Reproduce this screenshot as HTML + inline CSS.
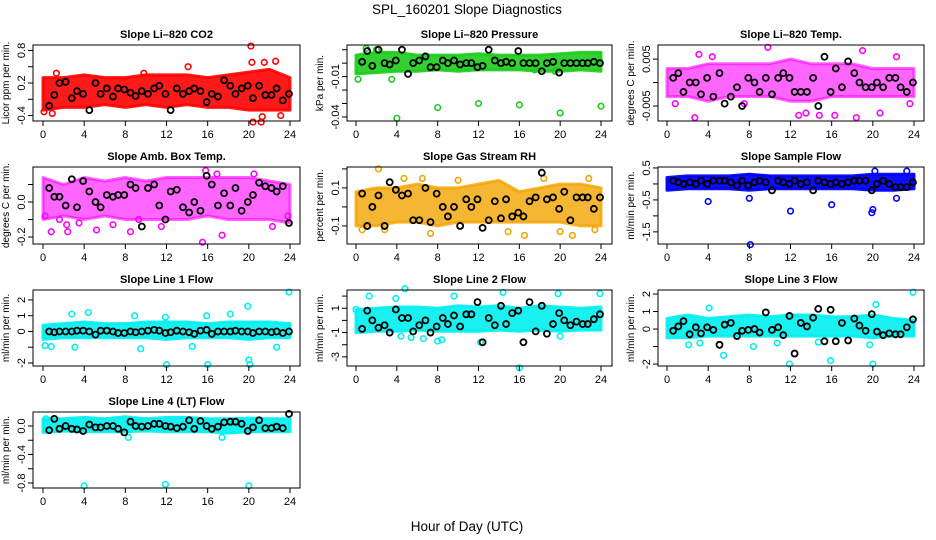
<!DOCTYPE html>
<html><head><meta charset="utf-8"><style>
html,body{margin:0;padding:0;background:#fff;}
svg{display:block;font-family:"Liberation Sans",sans-serif;}
</style></head><body>
<svg id="chart" width="936" height="540" viewBox="0 0 936 540" xmlns="http://www.w3.org/2000/svg">
<text x="467" y="14" font-size="13.5" text-anchor="middle">SPL_160201  Slope Diagnostics</text>
<text x="467" y="531" font-size="13.5" text-anchor="middle">Hour of Day (UTC)</text>
</svg>
<script>
const bandHours=[0,2,4,6,8,10,12,14,16,18,20,22,24];
const blackHours=[0.6,1.1,1.6,2.2,2.8,3.3,3.9,4.5,5.1,5.6,6.2,6.8,7.3,7.9,8.5,9.0,9.6,10.2,10.8,11.3,11.9,12.4,13.0,13.6,14.2,14.7,15.3,15.9,16.4,17.0,17.6,18.2,18.7,19.3,19.9,20.4,21.0,21.6,22.2,22.7,23.3,23.9];
const xTicks=[0,4,8,12,16,20,24];

const co2Lo=[-0.3,-0.25,-0.25,-0.2,-0.25,-0.2,-0.25,-0.2,-0.25,-0.25,-0.3,-0.3,-0.3];
const co2Hi=[0.3,0.3,0.35,0.3,0.3,0.35,0.35,0.35,0.3,0.35,0.4,0.45,0.3];
const co2OutX=[0.1,0.9,1.3,9.8,14.1,20.2,20.4,21.2,21.5,22.6,20.3,21.3,23.1];
const co2OutY=[-0.33,-0.36,0.38,0.38,0.5,0.88,-0.52,-0.52,0.58,0.6,0.58,-0.42,-0.4];
const co2Black=[-0.22,-0.02,0.2,0.22,-0.08,0.05,0.0,-0.3,0.2,0.0,0.1,-0.05,0.1,0.08,0.02,-0.04,0.05,0.0,0.1,0.15,0.0,-0.3,0.1,0.0,0.05,0.1,0.05,-0.15,0.0,-0.05,0.25,0.15,0.0,0.1,0.15,-0.08,0.15,-0.02,-0.02,0.1,-0.12,0.0];

const presLo=[-0.008,-0.007,-0.006,-0.006,-0.005,-0.006,-0.005,-0.005,-0.005,-0.006,-0.006,-0.005,-0.006];
const presHi=[0.006,0.008,0.008,0.006,0.006,0.006,0.007,0.006,0.006,0.006,0.007,0.008,0.008];
const presOutX=[0.2,4.0,8.0,12.0,16.0,20.0,24.0,1.0,2.0,3.5,17.5,19.5];
const presOutY=[-0.012,-0.041,-0.033,-0.03,-0.031,-0.037,-0.032,0.011,0.01,-0.012,-0.005,-0.006];
const presBlack=[0.001,0.009,-0.002,0.01,0.0,-0.001,0.002,0.01,-0.008,0.0,0.002,0.005,-0.003,-0.003,0.002,0.0,0.002,-0.001,0.0,0.0,-0.003,-0.002,0.01,0.002,0.0,0.001,0.0,0.009,0.0,0.0,0.0,-0.006,0.0,0.001,-0.007,0.0,0.0,0.0,0.0,0.0,0.001,0.0];

const tempLo=[-0.003,-0.003,-0.004,-0.003,-0.003,-0.003,-0.004,-0.004,-0.003,-0.003,-0.003,-0.003,-0.003];
const tempHi=[0.003,0.003,0.004,0.004,0.004,0.004,0.005,0.004,0.004,0.004,0.003,0.003,0.003];
const tempOutX=[2.7,3.1,0.8,4.4,9.8,12.8,13.5,14.8,16.3,18.4,19.0,20.7,22.3,23.6,7.5];
const tempOutY=[-0.0075,0.006,-0.0045,0.0055,0.0075,-0.007,-0.0065,-0.007,-0.007,-0.0075,0.0068,-0.0065,0.0055,-0.0045,-0.0045];
const tempBlack=[0.001,0.002,-0.002,0.0,0.0,-0.0025,0.001,-0.003,0.002,-0.0045,-0.003,-0.001,-0.005,0.001,0.0,-0.002,0.001,-0.0025,0.001,0.002,0.001,-0.002,-0.002,-0.002,0.001,-0.005,0.0055,-0.002,0.003,-0.001,0.0045,0.002,0.0,-0.001,-0.001,0.0,-0.001,0.001,0.001,-0.001,-0.002,0.0];

const ambLo=[-0.1,-0.08,-0.1,-0.08,-0.1,-0.1,-0.1,-0.1,-0.08,-0.1,-0.1,-0.1,-0.12];
const ambHi=[0.14,0.1,0.14,0.12,0.14,0.12,0.14,0.14,0.14,0.14,0.14,0.12,0.1];
const ambOutX=[0.2,0.8,2.3,2.4,3.5,5.2,6.8,8.5,9.3,11.5,15.5,15.8,16.9,17.4,20.5,22.3,23.8,1.6];
const ambOutY=[-0.08,-0.17,-0.13,-0.17,-0.12,-0.16,-0.13,-0.17,-0.1,-0.14,-0.23,0.18,0.16,-0.19,0.16,-0.14,-0.08,-0.1];
const ambBlack=[0.08,0.03,0.03,-0.02,0.13,-0.03,0.12,0.06,0.0,-0.03,0.04,0.03,0.04,0.04,0.1,0.08,-0.14,0.08,0.1,-0.02,-0.1,0.06,0.07,-0.03,-0.06,0.0,-0.05,0.15,0.1,-0.02,0.05,-0.02,0.08,-0.05,0.0,0.04,0.11,0.09,0.08,0.06,0.09,-0.12];

const rhLo=[-0.1,-0.1,-0.08,-0.08,-0.1,-0.08,-0.08,-0.08,-0.08,-0.08,-0.08,-0.1,-0.1];
const rhHi=[0.08,0.1,0.1,0.12,0.1,0.1,0.12,0.14,0.08,0.1,0.12,0.12,0.1];
const rhOutX=[0.6,2.2,2.8,4.7,7.3,10.0,14.9,16.5,18.4,20.0,21.2,22.8,23.4,6.5];
const rhOutY=[-0.12,0.2,-0.12,0.15,-0.14,0.14,-0.13,-0.15,0.15,-0.13,-0.15,0.15,-0.12,0.15];
const rhBlack=[0.07,-0.1,0.0,0.06,-0.1,0.13,0.09,0.06,0.07,-0.07,-0.07,0.1,-0.08,0.07,0.0,-0.05,0.0,-0.1,0.04,0.0,0.04,-0.11,-0.07,0.03,-0.06,0.04,-0.05,-0.03,-0.05,0.03,0.05,0.18,0.04,0.05,-0.01,0.08,-0.07,0.05,0.05,0.05,-0.01,0.05];

const sfLo=[-0.2,-0.15,-0.15,-0.15,-0.2,-0.15,-0.15,-0.15,-0.15,-0.15,-0.2,-0.2,-0.15];
const sfHi=[0.2,0.25,0.25,0.25,0.3,0.25,0.25,0.25,0.25,0.25,0.3,0.3,0.3];
const sfOutX=[4.0,8.0,8.1,12.0,16.0,19.9,20.0,22.3,23.3,20.2];
const sfOutY=[-0.55,-0.45,-1.9,-0.85,-0.65,-0.9,-0.8,-0.45,0.4,0.4];
const sfBlack=[0.1,0.05,0.0,0.05,0.0,0.1,0.0,0.1,0.1,0.1,0.05,-0.05,0.1,-0.05,0.05,0.1,0.05,-0.2,0.1,0.05,0.0,0.1,0.0,0.05,-0.2,0.1,0.05,0.0,0.05,0.0,0.05,0.1,0.1,0.1,-0.2,0.0,0.1,0.0,-0.1,-0.1,-0.1,0.05];

const l1Lo=[-0.5,-0.4,-0.4,-0.4,-0.4,-0.4,-0.5,-0.4,-0.4,-0.4,-0.5,-0.4,-0.4];
const l1Hi=[0.4,0.5,0.6,0.5,0.5,0.6,0.6,0.6,0.5,0.6,0.6,0.6,0.5];
const l1OutX=[0.2,0.8,2.8,3.1,4.4,8.9,9.5,11.9,12.0,14.5,15.9,16.0,18.2,19.9,20.0,20.1,23.9,22.7];
const l1OutY=[-0.9,-0.95,1.1,-1.0,1.2,1.0,-1.1,0.9,-2.1,-0.95,1.0,-2.1,1.1,1.6,-1.8,-2.1,2.5,-1.0];
const l1Black=[0.0,-0.05,0.0,0.0,0.0,0.05,0.05,0.0,-0.2,0.05,0.05,0.0,-0.1,-0.1,0.0,-0.05,0.0,0.05,0.1,0.05,-0.1,-0.05,0.05,0.0,-0.05,-0.15,0.05,0.1,-0.15,0.0,0.0,0.0,0.05,0.0,0.0,-0.1,0.0,0.0,-0.05,0.0,-0.1,0.0];

const l2Lo=[-1.0,-0.9,-0.9,-0.8,-0.9,-0.9,-0.9,-0.8,-0.9,-0.8,-0.9,-0.8,-0.8];
const l2Hi=[0.9,1.0,1.1,1.1,1.0,1.2,1.1,1.2,1.0,1.2,1.1,1.0,1.1];
const l2OutX=[0.0,1.3,3.9,4.4,4.8,5.4,8.4,9.6,12.2,14.4,16.0,19.8,23.9,6.6,20.0,8.0];
const l2OutY=[0.9,2.0,1.8,-1.3,2.6,-1.4,-1.6,2.0,-1.8,2.3,-3.9,2.2,2.2,-1.5,-1.3,-1.7];
const l2Black=[-0.7,0.8,0.0,-0.6,-0.4,-1.0,0.9,0.2,0.2,-0.9,-0.4,0.0,-1.0,-0.5,0.2,-0.3,0.4,-0.5,0.5,0.5,1.5,-1.8,0.2,-0.4,1.2,-0.3,0.6,0.8,-1.8,1.5,-0.9,1.2,-1.1,-0.3,0.6,0.0,-0.4,-0.1,-0.3,-0.3,0.1,0.5];

const l3Lo=[-0.5,-0.5,-0.4,-0.4,-0.4,-0.4,-0.4,-0.4,-0.4,-0.4,-0.5,-0.4,-0.4];
const l3Hi=[0.6,0.8,0.6,0.7,0.8,0.7,0.8,0.8,0.7,0.7,0.8,0.6,0.5];
const l3OutX=[2.1,4.1,5.5,8.4,10.7,11.9,14.7,15.9,20.0,20.3,23.9,19.7,3.2];
const l3OutY=[-0.9,1.2,-1.5,-1.0,-0.8,-2.0,-0.75,-1.8,-2.0,1.4,2.1,-0.9,-0.8];
const l3Black=[-0.1,0.15,0.45,-0.3,0.1,-0.25,0.1,-0.05,-0.9,0.25,0.35,-0.4,-0.1,-0.05,0.0,-0.2,0.95,-0.05,0.1,-0.35,0.75,-1.4,0.35,0.15,0.65,1.15,-0.7,1.1,-0.7,0.35,-0.65,0.6,0.2,-0.1,0.85,-0.15,-0.35,-0.25,-0.3,-0.3,0.1,0.55];

const l4Lo=[-0.09,-0.07,-0.08,-0.08,-0.08,-0.07,-0.08,-0.08,-0.08,-0.1,-0.08,-0.08,-0.08];
const l4Hi=[0.1,0.1,0.12,0.1,0.13,0.1,0.12,0.12,0.1,0.1,0.11,0.1,0.1];
const l4OutX=[4.0,11.9,20.0,8.3,17.4,0.3];
const l4OutY=[-0.84,-0.82,-0.84,-0.16,-0.16,0.1];
const l4Black=[-0.06,0.1,-0.04,0.0,-0.04,-0.05,-0.07,0.02,-0.02,-0.02,0.0,0.0,-0.04,-0.09,0.06,0.0,-0.01,0.0,0.03,0.03,0.0,-0.01,-0.03,-0.01,0.08,-0.04,0.07,0.0,-0.04,-0.01,0.05,0.06,0.06,0.03,-0.07,-0.02,0.08,-0.03,-0.03,-0.01,-0.03,0.17];

const NS="http://www.w3.org/2000/svg";
const svg=document.getElementById('chart');
function mk(tag,attrs,parent){const e=document.createElementNS(NS,tag);for(const k in attrs)e.setAttribute(k,attrs[k]);(parent||svg).appendChild(e);return e;}

const cols=[{l:33,r:300,x0:43,x1:290},{l:347,r:612,x0:356,x1:601},{l:658,r:924,x0:667,x1:914}];
const rows=[{t:45,b:121},{t:167,b:244},{t:290,b:366},{t:412,b:488}];

const panels=[
 {id:'co2',title:'Slope Li\u2013820 CO2',ylab:'Licor ppm per min.',c:0,r:0,ymin:-0.5,ymax:0.9,ticks:[-0.4,-0.1,0.2,0.5,0.8],labels:['-0.4','','0.2','','0.8'],color:'#ff0000',op:0.9,lo:co2Lo,hi:co2Hi,ox:co2OutX,oy:co2OutY,bk:co2Black},
 {id:'pressure',title:'Slope Li\u2013820 Pressure',ylab:'kPa per min.',c:1,r:0,ymin:-0.043,ymax:0.0135,ticks:[0.01,0,-0.01,-0.02,-0.03,-0.04],labels:['','','-0.01','','','-0.04'],color:'#1ccc1c',op:0.9,lo:presLo,hi:presHi,ox:presOutX,oy:presOutY,bk:presBlack},
 {id:'li-temp',title:'Slope Li\u2013820 Temp.',ylab:'degrees C  per min.',c:2,r:0,ymin:-0.0082,ymax:0.008,ticks:[-0.005,0,0.005],labels:['-0.005','','0.005'],color:'#ff00ff',op:0.6,lo:tempLo,hi:tempHi,ox:tempOutX,oy:tempOutY,bk:tempBlack},
 {id:'amb-temp',title:'Slope Amb. Box Temp.',ylab:'degrees C per min.',c:0,r:1,ymin:-0.24,ymax:0.2,ticks:[-0.2,-0.1,0,0.1],labels:['-0.2','','0.0',''],color:'#ff00ff',op:0.6,lo:ambLo,hi:ambHi,ox:ambOutX,oy:ambOutY,bk:ambBlack},
 {id:'gas-rh',title:'Slope Gas Stream RH',ylab:'percent per min.',c:1,r:1,ymin:-0.195,ymax:0.21,ticks:[-0.1,0,0.1,0.2],labels:['-0.1','','0.1',''],color:'#f2a400',op:0.8,lo:rhLo,hi:rhHi,ox:rhOutX,oy:rhOutY,bk:rhBlack},
 {id:'sample-flow',title:'Slope Sample Flow',ylab:'ml/min per min.',c:2,r:1,ymin:-1.88,ymax:0.53,ticks:[-1.5,-1,-0.5,0,0.5],labels:['-1.5','','-0.5','','0.5'],color:'#0000ff',op:0.95,lo:sfLo,hi:sfHi,ox:sfOutX,oy:sfOutY,bk:sfBlack},
 {id:'line1-flow',title:'Slope Line 1 Flow',ylab:'ml/min per min.',c:0,r:2,ymin:-2.19,ymax:2.63,ticks:[-2,-1,0,1,2],labels:['-2','','0','1','2'],color:'#00f0f0',op:0.9,lo:l1Lo,hi:l1Hi,ox:l1OutX,oy:l1OutY,bk:l1Black},
 {id:'line2-flow',title:'Slope Line 2 Flow',ylab:'ml/min per min.',c:1,r:2,ymin:-3.75,ymax:2.5,ticks:[-3,-2,-1,0,1,2],labels:['-3','','-1','','1',''],color:'#00f0f0',op:0.9,lo:l2Lo,hi:l2Hi,ox:l2OutX,oy:l2OutY,bk:l2Black},
 {id:'line3-flow',title:'Slope Line 3 Flow',ylab:'ml/min per min.',c:2,r:2,ymin:-2.11,ymax:2.23,ticks:[-2,-1,0,1,2],labels:['-2','','0','1','2'],color:'#00f0f0',op:0.9,lo:l3Lo,hi:l3Hi,ox:l3OutX,oy:l3OutY,bk:l3Black},
 {id:'line4-flow',title:'Slope Line 4 (LT) Flow',ylab:'ml/min per min.',c:0,r:3,ymin:-0.87,ymax:0.196,ticks:[-0.8,-0.6,-0.4,-0.2,0],labels:['-0.8','','-0.4','','0.0'],color:'#00f0f0',op:0.9,lo:l4Lo,hi:l4Hi,ox:l4OutX,oy:l4OutY,bk:l4Black}
];

panels.forEach(p=>{
 const C=cols[p.c],R=rows[p.r];
 const xs=v=>C.x0+(v/24)*(C.x1-C.x0);
 const ys=v=>R.b-(v-p.ymin)/(p.ymax-p.ymin)*(R.b-R.t);
 const g=mk('g',{});
 
 
 const t=mk('text',{x:(C.l+C.r)/2,y:R.t-7,'font-size':11,'font-weight':'bold','text-anchor':'middle'},g);
 t.textContent=p.title;
 
 
 const yl=mk('text',{x:0,y:0,'font-size':10,'text-anchor':'middle',transform:`translate(${C.l-24},${(R.t+R.b)/2}) rotate(-90)`},g);
 yl.textContent=p.ylab;
 
 
 let d='';
 bandHours.forEach((h,i)=>{d+=(i?'L':'M')+xs(h).toFixed(1)+','+ys(p.hi[i]).toFixed(1);});
 for(let i=bandHours.length-1;i>=0;i--)d+='L'+xs(bandHours[i]).toFixed(1)+','+ys(p.lo[i]).toFixed(1);
 d+='Z';
 const band=mk('path',{d:d,fill:p.color,'fill-opacity':p.op,stroke:p.color,'stroke-opacity':p.op,'stroke-width':3,'stroke-linejoin':'round'},g);
 
 
 p.ox.forEach((x,i)=>{
  const c=mk('circle',{cx:xs(x),cy:ys(p.oy[i]),r:2.8,fill:'none',stroke:p.color,'stroke-width':1.6},g);
  
  
 });
 const n=Math.min(blackHours.length,p.bk.length);
 for(let i=0;i<n;i++){
  const c=mk('circle',{cx:xs(blackHours[i]),cy:ys(p.bk[i]),r:3,fill:'none',stroke:'#000','stroke-width':1.8},g);
  
  
 }
 const box=mk('rect',{x:C.l,y:R.t,width:C.r-C.l,height:R.b-R.t,fill:'none',stroke:'#000','stroke-width':1},g);
 
 
 xTicks.forEach(v=>{
  mk('line',{x1:xs(v),x2:xs(v),y1:R.b,y2:R.b+5,stroke:'#000'},g);
  const tl=mk('text',{x:xs(v),y:R.b+17,'font-size':11,'text-anchor':'middle'},g);
  tl.textContent=v;
  
  
 });
 p.ticks.forEach((v,i)=>{
  const y=ys(v);
  mk('line',{x1:C.l,x2:C.l-5,y1:y,y2:y,stroke:'#000'},g);
  if(p.labels[i]){
   const tl=mk('text',{x:0,y:0,'font-size':11,'text-anchor':'middle',transform:`translate(${C.l-8},${y}) rotate(-90)`},g);
   tl.textContent=p.labels[i];
   
   
  }
 });
});
</script>
</body></html>
